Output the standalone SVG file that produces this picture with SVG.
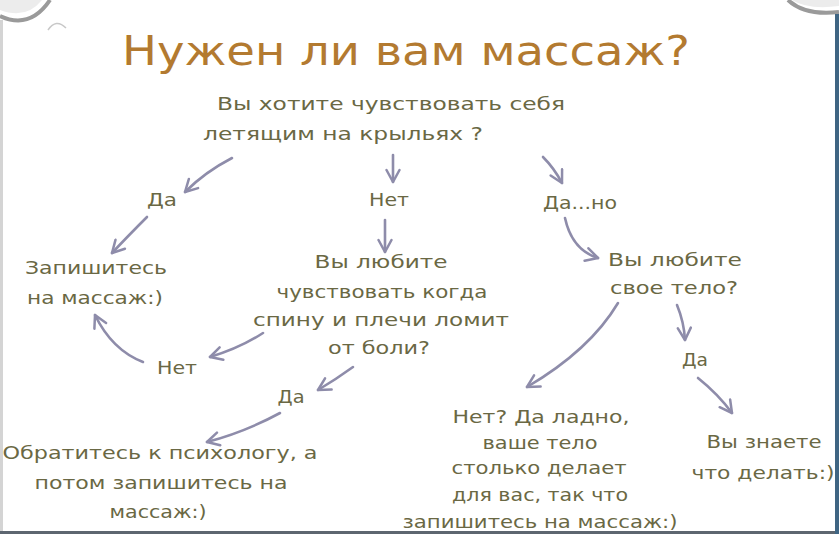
<svg xmlns="http://www.w3.org/2000/svg" width="839" height="534" viewBox="0 0 839 534">
<style>
.t{font-family:"DejaVu Sans","Noto Sans",sans-serif;font-size:18px;fill:#6a6844;text-anchor:middle}
.title{font-family:"DejaVu Sans","Noto Sans",sans-serif;font-size:40px;fill:#b37a30;text-anchor:middle}
.a{fill:none;stroke:#8e8caa;stroke-width:2.6;stroke-linecap:round;marker-end:url(#h)}
</style>
<defs>
<marker id="h" viewBox="0 0 16 16" refX="14" refY="8" markerWidth="16" markerHeight="16" markerUnits="userSpaceOnUse" orient="auto">
<path d="M2,1.5 L14,8 L2,14.5" fill="none" stroke="#8e8caa" stroke-width="2.5" stroke-linecap="round" stroke-linejoin="round"/>
</marker>
</defs>
<rect width="839" height="534" fill="#ffffff"/>
<g id="frame">
<path d="M0,16 Q30,30 50,0" fill="none" stroke="#9a9a9a" stroke-width="4"/>
<path d="M0,10 Q26,20 42,0 L0,0 Z" fill="#ececec"/>
<path d="M788,0 Q805,16 839,12" fill="none" stroke="#9a9a9a" stroke-width="4"/>
<path d="M792,0 Q808,10 839,6 L839,0 Z" fill="#ececec"/>
<path d="M48,30 Q56,18 66,28" fill="none" stroke="#c8c8c8" stroke-width="1.5"/>
<line x1="1.5" y1="20" x2="1.5" y2="532" stroke="#d4d4d4" stroke-width="3"/>
<line x1="0" y1="532.5" x2="839" y2="532.5" stroke="#5d6670" stroke-width="3"/>
<line x1="837" y1="14" x2="837" y2="534" stroke="#3f6583" stroke-width="4"/>
</g>
<g id="title"><text class="title" x="406" y="65" textLength="568" lengthAdjust="spacingAndGlyphs">Нужен ли вам массаж?</text></g>
<g id="q1">
<text class="t" x="391" y="110" textLength="348" lengthAdjust="spacingAndGlyphs">Вы хотите чувствовать себя</text>
<text class="t" x="343" y="140" textLength="280" lengthAdjust="spacingAndGlyphs">летящим на крыльях ?</text>
</g>
<g id="da1"><text class="t" x="162" y="206" textLength="30" lengthAdjust="spacingAndGlyphs">Да</text></g>
<g id="net1"><text class="t" x="389" y="206" textLength="40" lengthAdjust="spacingAndGlyphs">Нет</text></g>
<g id="dano"><text class="t" x="580" y="209" textLength="74" lengthAdjust="spacingAndGlyphs">Да...но</text></g>
<g id="zapis1">
<text class="t" x="96" y="274" textLength="142" lengthAdjust="spacingAndGlyphs">Запишитесь</text>
<text class="t" x="95" y="304" textLength="136" lengthAdjust="spacingAndGlyphs">на массаж:)</text>
</g>
<g id="q2">
<text class="t" x="381" y="268" textLength="133" lengthAdjust="spacingAndGlyphs">Вы любите</text>
<text class="t" x="382" y="298" textLength="211" lengthAdjust="spacingAndGlyphs">чувствовать когда</text>
<text class="t" x="381" y="326" textLength="256" lengthAdjust="spacingAndGlyphs">спину и плечи ломит</text>
<text class="t" x="379" y="354" textLength="102" lengthAdjust="spacingAndGlyphs">от боли?</text>
</g>
<g id="net2"><text class="t" x="177" y="374" textLength="40" lengthAdjust="spacingAndGlyphs">Нет</text></g>
<g id="da2"><text class="t" x="291" y="403" textLength="27" lengthAdjust="spacingAndGlyphs">Да</text></g>
<g id="psych">
<text class="t" x="160" y="459" textLength="315" lengthAdjust="spacingAndGlyphs">Обратитесь к психологу, а</text>
<text class="t" x="161" y="489" textLength="253" lengthAdjust="spacingAndGlyphs">потом запишитесь на</text>
<text class="t" x="158" y="518" textLength="97" lengthAdjust="spacingAndGlyphs">массаж:)</text>
</g>
<g id="q3">
<text class="t" x="675" y="266" textLength="134" lengthAdjust="spacingAndGlyphs">Вы любите</text>
<text class="t" x="674" y="294" textLength="128" lengthAdjust="spacingAndGlyphs">свое тело?</text>
</g>
<g id="da3"><text class="t" x="695" y="366" textLength="26" lengthAdjust="spacingAndGlyphs">Да</text></g>
<g id="znaete">
<text class="t" x="764" y="448" textLength="115" lengthAdjust="spacingAndGlyphs">Вы знаете</text>
<text class="t" x="763" y="479" textLength="143" lengthAdjust="spacingAndGlyphs">что делать:)</text>
</g>
<g id="ladno">
<text class="t" x="541" y="423" textLength="177" lengthAdjust="spacingAndGlyphs">Нет? Да ладно,</text>
<text class="t" x="540" y="449" textLength="115" lengthAdjust="spacingAndGlyphs">ваше тело</text>
<text class="t" x="539" y="474" textLength="175" lengthAdjust="spacingAndGlyphs">столько делает</text>
<text class="t" x="540" y="501" textLength="176" lengthAdjust="spacingAndGlyphs">для вас, так что</text>
<text class="t" x="540" y="528" textLength="275" lengthAdjust="spacingAndGlyphs">запишитесь на массаж:)</text>
</g>
<g id="connectors">
<path class="a" d="M232,158 Q205,172 185,192"/>
<path class="a" d="M393,155 L393,182"/>
<path class="a" d="M543,157 Q554,168 562,183"/>
<path class="a" d="M147,217 Q128,236 112,253"/>
<path class="a" d="M385,220 L385,252"/>
<path class="a" d="M565,218 Q572,250 598,258"/>
<path class="a" d="M143,362 Q112,350 95,315"/>
<path class="a" d="M263,333 Q240,348 210,357"/>
<path class="a" d="M353,367 Q335,380 318,390"/>
<path class="a" d="M280,413 Q245,432 207,442"/>
<path class="a" d="M618,303 Q590,350 527,387"/>
<path class="a" d="M677,305 Q684,322 685,340"/>
<path class="a" d="M698,378 Q718,394 732,413"/>
</g>
</svg>
